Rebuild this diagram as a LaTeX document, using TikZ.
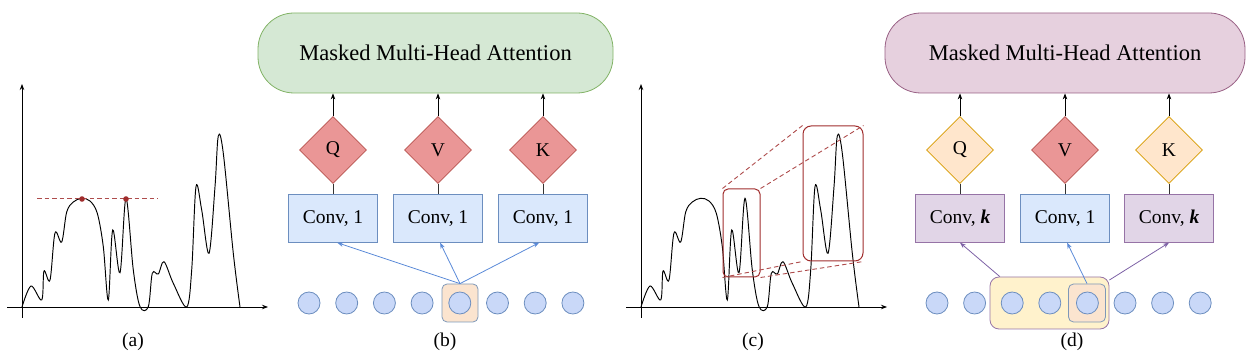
\documentclass[tikz,border=0pt]{standalone}
\usepackage{fontspec}
\setmainfont{Liberation Serif}
\usepackage{xcolor}
\usepackage{tikz}
\usetikzlibrary{positioning,shapes.geometric,arrows.meta}

\definecolor{greenF}{HTML}{D5E8D4}
\definecolor{greenD}{HTML}{82B366}
\definecolor{pinkF}{HTML}{E6D0DE}
\definecolor{pinkD}{HTML}{996185}
\definecolor{redF}{HTML}{EA9696}
\definecolor{redD}{HTML}{B85450}
\definecolor{blueF}{HTML}{DAE8FC}
\definecolor{blueD}{HTML}{6C8EBF}
\definecolor{tokenF}{HTML}{C9D8F8}
\definecolor{purpF}{HTML}{E1D5E7}
\definecolor{purpD}{HTML}{9673A6}
\definecolor{orangeF}{HTML}{FFE6CC}
\definecolor{orangeD}{HTML}{D79B00}
\definecolor{peachF}{HTML}{FBE4CF}
\definecolor{yellowF}{HTML}{FFF2CC}
\definecolor{grayD}{HTML}{7E98B8}
\definecolor{arrowB}{HTML}{5A8AD8}
\definecolor{arrowP}{HTML}{7E62A6}
\definecolor{zoomR}{HTML}{A02C2C}

\begin{document}
\begin{tikzpicture}[x=1pt,y=-1pt,>={Stealth[length=6pt,width=4.5pt]},
    pill/.style={draw,rounded corners=36pt,minimum width=355pt,minimum height=80pt,line width=0.8pt,font=\fontsize{22.5}{26}\selectfont},
    qkv/.style={diamond,draw,aspect=1,minimum width=67pt,minimum height=67pt,inner sep=0pt,line width=0.8pt,font=\fontsize{19.5}{22}\selectfont},
    conv/.style={draw,minimum width=89pt,minimum height=48pt,line width=0.8pt,font=\fontsize{19.5}{22}\selectfont},
    token/.style={circle,draw=blueD,fill=tokenF,minimum size=22pt,inner sep=0pt,line width=0.8pt},
    hl/.style={draw,rounded corners=5pt,line width=0.8pt,inner sep=0pt},
    caption/.style={font=\fontsize{19.5}{22}\selectfont}]
  \useasboundingbox (0,0) rectangle (1256,363);

  % signal plots (a) and (c)
  \foreach \sx in {0,619} {
    \begin{scope}[shift={(\sx+22,307)},yscale=-1,line width=0.8pt]
      \draw[->] (-15,0) -- (246,0);
      \draw[->] (0,-11) -- (0,223);
      \draw[smooth,tension=0.55,line width=0.95pt] plot coordinates {(0,0) (9,21) (19.7,7) (22,36) (28,27) (33,74) (39.7,65)
        (44.7,95) (51.3,105) (59.7,108.7) (68,106) (75.3,93.7) (81.3,60.3) (86.3,7) (90.7,77) (98,34.3)
        (104,108.7) (111.3,37) (118,0.3) (126.3,0.3) (130.3,33.7) (136.3,33) (142,45.3) (151.3,23.7)
        (164.7,0) (169.7,37) (174,120.3) (179.7,97) (187,53.7) (193,120.3) (196.3,171) (201.3,153.7)
        (211.3,53.7) (218,0)};
    \end{scope}
  }
  \draw[zoomR!85,dash pattern=on 4.5pt off 3pt,line width=1pt] (37,199) -- (158,199);
  \fill[zoomR] (82,199) circle (2.8) (126,199) circle (2.8);
  \node[caption] (capa) at (133,342) {(a)};

  % (b)
  \node[pill,draw=greenD,fill=greenF] (pillb) at (435.5,53) {Masked Multi-Head Attention};
  \node[qkv,draw=redD,fill=redF] (qb) at (333,150) {Q};
  \node[qkv,draw=redD,fill=redF] (vb) at (438,150) {V};
  \node[qkv,draw=redD,fill=redF] (kb) at (543,150) {K};
  \node[conv,draw=blueD,fill=blueF,below=10pt of qb] (convb1) {Conv, 1};
  \node[conv,draw=blueD,fill=blueF,below=10pt of vb] (convb2) {Conv, 1};
  \node[conv,draw=blueD,fill=blueF,below=10pt of kb] (convb3) {Conv, 1};
  \foreach \n in {qb,vb,kb}
    \draw[->,line width=0.8pt] (\n.north) -- (\n.north |- pillb.south);
  \draw[line width=0.8pt,black!80] (qb.south) -- (convb1.north) (vb.south) -- (convb2.north) (kb.south) -- (convb3.north);
  \node[hl,draw=grayD,fill=peachF,minimum width=36pt,minimum height=38pt] (hlb) at (460,303) {};
  \foreach \i in {0,...,7}
    \node[token] (tb\i) at (309+37.7*\i,303) {};
  \draw[->,arrowB,line width=0.8pt] (hlb.north) -- (convb1.-80);
  \draw[->,arrowB,line width=0.8pt] (hlb.north) -- (convb2.-85);
  \draw[->,arrowB,line width=0.8pt] (hlb.north) -- (convb3.-99);
  \node[caption] (capb) at (445,342) {(b)};

  % (c)
  \node[draw=zoomR,rounded corners=5pt,line width=1pt,minimum width=37pt,minimum height=88pt,inner sep=0pt] (zooms) at (741.5,233) {};
  \node[draw=zoomR,rounded corners=8pt,line width=1pt,minimum width=60pt,minimum height=135pt,inner sep=0pt] (zooml) at (833,193.5) {};
  \draw[zoomR!85,dash pattern=on 4.5pt off 3pt,line width=0.9pt] (zooms.north west) -- (zooml.north west)
    (zooms.north east) -- (zooml.north east)
    (zooms.south west) -- (zooml.south west)
    (zooms.south east) -- (zooml.south east);
  \node[caption] (capc) at (753,342) {(c)};

  % (d)
  \node[pill,draw=pinkD,fill=pinkF,minimum width=360pt] (pilld) at (1065,53) {Masked Multi-Head Attention};
  \node[qkv,draw=orangeD,fill=orangeF] (qd) at (960,150) {Q};
  \node[qkv,draw=redD,fill=redF] (vd) at (1065,150) {V};
  \node[qkv,draw=orangeD,fill=orangeF] (kd) at (1169,150) {K};
  \node[conv,draw=purpD,fill=purpF,below=10pt of qd] (convd1) {Conv, \textbf{\textit{k}}};
  \node[conv,draw=blueD,fill=blueF,below=10pt of vd] (convd2) {Conv, 1};
  \node[conv,draw=purpD,fill=purpF,below=10pt of kd] (convd3) {Conv, \textbf{\textit{k}}};
  \foreach \n in {qd,vd,kd}
    \draw[->,line width=0.8pt] (\n.north) -- (\n.north |- pilld.south);
  \draw[line width=0.8pt,black!80] (qd.south) -- (convd1.north) (vd.south) -- (convd2.north) (kd.south) -- (convd3.north);
  \node[hl,rounded corners=9pt,draw=purpD,fill=yellowF,minimum width=119pt,minimum height=52pt] (hld) at (1049.5,303) {};
  \node[hl,draw=grayD,fill=peachF,minimum width=37pt,minimum height=38pt] (hlk) at (1087,303) {};
  \foreach \i in {0,...,7}
    \node[token] (td\i) at (937+37.6*\i,303) {};
  \draw[->,arrowP,line width=0.8pt] (hld.152) -- (convd1.south);
  \draw[->,arrowB,line width=0.8pt] (hlk.north) -- (convd2.-85);
  \draw[->,arrowP,line width=0.8pt] (hld.21) -- (convd3.south);
  \node[caption] (capd) at (1072,342) {(d)};
\end{tikzpicture}
\end{document}
